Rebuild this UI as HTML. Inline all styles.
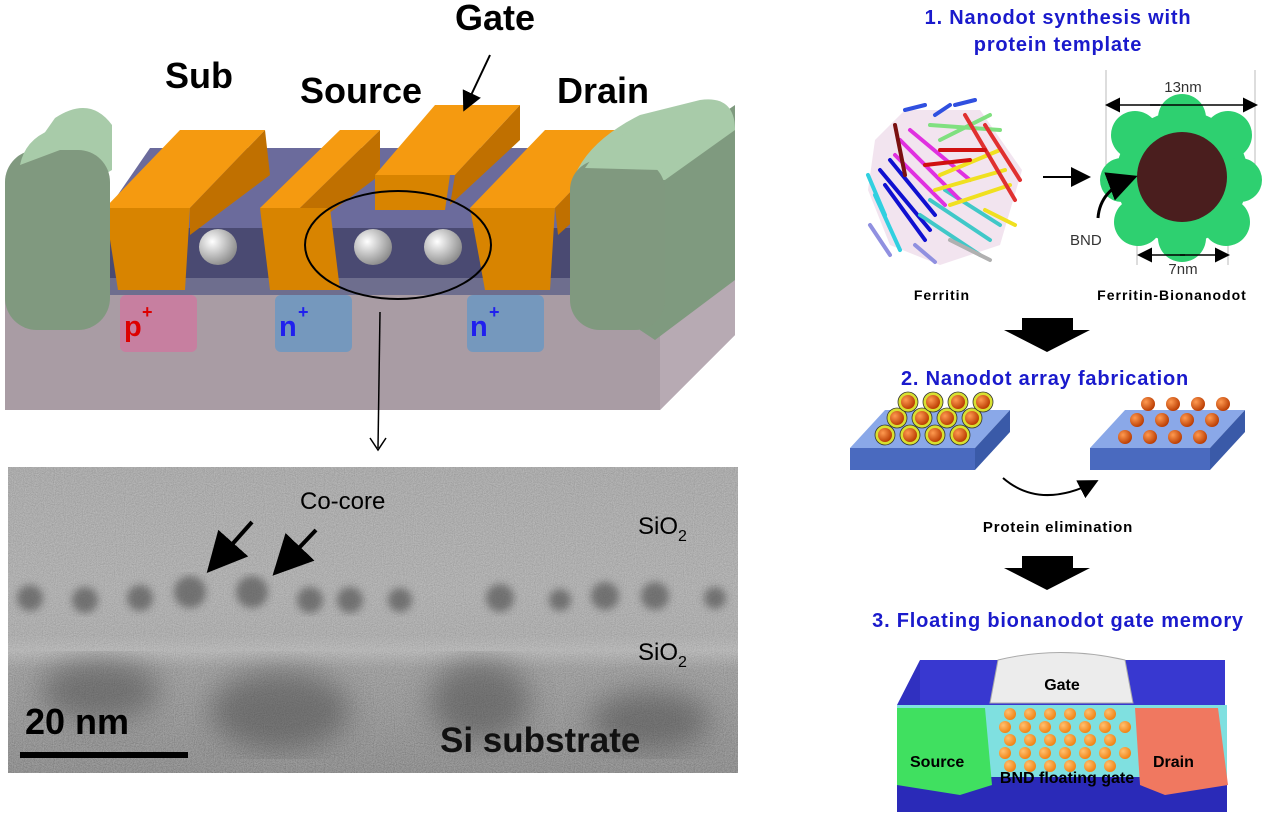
<!DOCTYPE html>
<html><head><meta charset="utf-8"><style>
html,body{margin:0;padding:0;background:#fff;}
svg{display:block;font-family:"Liberation Sans",Arial,sans-serif;}
</style></head><body>
<svg width="1269" height="823" viewBox="0 0 1269 823" xmlns="http://www.w3.org/2000/svg">
<defs>
<filter id="noise" x="0" y="0" width="100%" height="100%">
<feTurbulence type="fractalNoise" baseFrequency="0.9" numOctaves="2" seed="3" result="n"/>
<feColorMatrix type="saturate" values="0" in="n" result="g"/>
<feComponentTransfer in="g" result="g2"><feFuncA type="linear" slope="0" intercept="0.35"/></feComponentTransfer>
<feComposite in="g2" in2="SourceGraphic" operator="atop"/>
</filter>
<filter id="blur4"><feGaussianBlur stdDeviation="4"/></filter>
<filter id="blur14"><feGaussianBlur stdDeviation="14"/></filter>
<linearGradient id="tem" x1="0" y1="0" x2="0" y2="1">
<stop offset="0" stop-color="#a0a0a0"/><stop offset="0.4" stop-color="#a8a8a8"/>
<stop offset="0.55" stop-color="#a4a4a4"/><stop offset="0.6" stop-color="#b2b2b2"/>
<stop offset="0.66" stop-color="#8c8c8c"/><stop offset="1" stop-color="#707070"/>
</linearGradient>
<radialGradient id="sph" cx="0.35" cy="0.35" r="0.7"><stop offset="0" stop-color="#fff"/><stop offset="1" stop-color="#8a8a8a"/></radialGradient>
<radialGradient id="ball" cx="0.35" cy="0.35" r="0.7"><stop offset="0" stop-color="#ff9a50"/><stop offset="1" stop-color="#b83a00"/></radialGradient>
<radialGradient id="oball" cx="0.35" cy="0.35" r="0.7"><stop offset="0" stop-color="#ffc070"/><stop offset="1" stop-color="#f08010"/></radialGradient>
<marker id="ah" markerWidth="10" markerHeight="10" refX="8" refY="5" orient="auto"><path d="M0,0 L10,5 L0,10 Z" fill="#000"/></marker>
</defs>

<!-- ===== Left top device ===== -->
<polygon points="5,293 660,293 735,235 735,335 660,410 5,410" fill="#a99ca4"/>
<polygon points="660,293 735,235 735,335 660,410" fill="#b7aab3"/>
<polygon points="95,228 150,148 640,148 590,228" fill="#6b6b9c"/>
<rect x="95" y="228" width="500" height="50" fill="#4a4a72"/>
<rect x="95" y="278" width="500" height="17" fill="#6e6e8e"/>
<rect x="120" y="295" width="77" height="57" rx="6" fill="#c77fa0"/>
<rect x="275" y="295" width="77" height="57" rx="6" fill="#7598bd"/>
<rect x="467" y="295" width="77" height="57" rx="6" fill="#7598bd"/>
<text x="124" y="336" font-size="29" font-weight="bold" fill="#dd0000">p</text><text x="142" y="318" font-size="18" font-weight="bold" fill="#dd0000">+</text>
<text x="279" y="336" font-size="29" font-weight="bold" fill="#2020ee">n</text><text x="298" y="318" font-size="18" font-weight="bold" fill="#2020ee">+</text>
<text x="470" y="336" font-size="29" font-weight="bold" fill="#2020ee">n</text><text x="489" y="318" font-size="18" font-weight="bold" fill="#2020ee">+</text>
<ellipse cx="218" cy="247" rx="19" ry="18" fill="url(#sph)"/>
<ellipse cx="373" cy="247" rx="19" ry="18" fill="url(#sph)"/>
<ellipse cx="443" cy="247" rx="19" ry="18" fill="url(#sph)"/>
<g>
<polygon points="105,208 180,130 265,130 190,208" fill="#f59a10"/>
<polygon points="190,208 265,130 270,175 190,235" fill="#c07000"/>
<polygon points="105,208 190,208 185,290 118,290" fill="#d88400"/>
<polygon points="260,208 340,130 380,130 300,208" fill="#f59a10"/>
<polygon points="300,208 380,130 380,175 300,235" fill="#c07000"/>
<polygon points="260,208 330,208 340,290 270,290" fill="#d88400"/>
<polygon points="375,175 435,105 520,105 455,175" fill="#f59a10"/>
<polygon points="455,175 520,105 520,140 450,205" fill="#c07000"/>
<polygon points="375,175 450,175 445,210 375,210" fill="#d88400"/>
<polygon points="470,208 545,130 630,130 555,208" fill="#f59a10"/>
<polygon points="555,208 630,130 630,170 558,235" fill="#c07000"/>
<polygon points="470,208 555,208 550,290 485,290" fill="#d88400"/>
</g>
<!-- green pillars -->
<path d="M8,185 L55,118 Q90,95 112,125 L112,170 L60,200 Z" fill="#a8cba9"/>
<rect x="5" y="150" width="105" height="180" rx="32" fill="#80997f"/>
<path d="M20,165 Q25,140 50,130 L60,122 Q85,108 105,125 Q80,130 60,150 Z" fill="#a8cba9"/>
<polygon points="640,170 735,105 735,280 655,340 640,330" fill="#7f9a7f"/>
<path d="M575,175 Q590,140 640,115 L700,100 Q735,95 735,130 L665,180 Z" fill="#a8cba9"/>
<rect x="570" y="160" width="95" height="170" rx="30" fill="#80997f"/>
<path d="M585,168 Q600,145 640,125 L700,105 Q728,100 730,125 L660,170 Z" fill="#a8cba9"/>
<ellipse cx="398" cy="245" rx="93" ry="54" fill="none" stroke="#000" stroke-width="2"/>
<text x="165" y="88" font-size="36" font-weight="bold">Sub</text>
<text x="300" y="103" font-size="36" font-weight="bold">Source</text>
<text x="455" y="30" font-size="36" font-weight="bold">Gate</text>
<text x="557" y="103" font-size="36" font-weight="bold">Drain</text>
<line x1="490" y1="55" x2="465" y2="108" stroke="#000" stroke-width="2" marker-end="url(#ah)"/>
<line x1="380" y1="312" x2="378" y2="448" stroke="#000" stroke-width="1.5"/>
<polyline points="370,438 378,450 386,438" fill="none" stroke="#000" stroke-width="1.5"/>

<!-- ===== TEM ===== -->
<g>
<rect x="8" y="467" width="730" height="306" fill="url(#tem)" filter="url(#noise)"/>
<g fill="#4a4a4a" opacity="0.6" filter="url(#blur4)">
<circle cx="30" cy="598" r="13"/><circle cx="85" cy="600" r="13"/><circle cx="140" cy="598" r="13"/>
<circle cx="190" cy="592" r="16"/><circle cx="252" cy="592" r="16"/><circle cx="310" cy="600" r="13"/>
<circle cx="350" cy="600" r="13"/><circle cx="400" cy="600" r="12"/><circle cx="500" cy="598" r="14"/>
<circle cx="560" cy="600" r="11"/><circle cx="605" cy="596" r="14"/><circle cx="655" cy="596" r="14"/><circle cx="715" cy="598" r="11"/>
</g>
<g fill="#3e3e3e" opacity="0.45" filter="url(#blur14)">
<ellipse cx="280" cy="710" rx="70" ry="40"/><ellipse cx="100" cy="690" rx="60" ry="30"/><ellipse cx="480" cy="700" rx="50" ry="40"/><ellipse cx="650" cy="720" rx="60" ry="30"/>
</g>
</g>
<text x="300" y="509" font-size="24">Co-core</text>
<line x1="252" y1="522" x2="212" y2="567" stroke="#000" stroke-width="4" marker-end="url(#ah)"/>
<line x1="316" y1="530" x2="278" y2="570" stroke="#000" stroke-width="4" marker-end="url(#ah)"/>
<text x="638" y="534" font-size="24">SiO<tspan font-size="16" dy="7">2</tspan></text>
<text x="638" y="660" font-size="24">SiO<tspan font-size="16" dy="7">2</tspan></text>
<text x="440" y="752" font-size="35" font-weight="bold" fill="#111">Si substrate</text>
<text x="25" y="734" font-size="36" font-weight="bold">20 nm</text>
<rect x="20" y="752" width="168" height="6" fill="#000"/>

<!-- ===== Right ===== -->
<g font-weight="bold" fill="#1a1acc" font-size="20" text-anchor="middle" letter-spacing="0.8">
<text x="1058" y="24">1. Nanodot synthesis with</text>
<text x="1058" y="51">protein template</text>
<text x="1045" y="385">2. Nanodot array fabrication</text>
<text x="1058" y="627">3. Floating bionanodot gate memory</text>
</g>
<!-- ferritin -->
<g stroke-width="4" fill="none" stroke-linecap="round">
<path d="M875,140 L905,110 L980,110 L1022,170 L1000,245 L940,265 L890,245 L868,190 Z" fill="#f2e4ef" stroke="none"/>
<path d="M880,170 L930,230 M885,185 L925,240 M890,160 L935,215" stroke="#1010d0"/>
<path d="M875,195 L900,250 M868,175 L885,215" stroke="#30d0e0"/>
<path d="M930,200 L990,240 M920,215 L980,255 M945,190 L1000,225" stroke="#40c8c8"/>
<path d="M900,140 L960,200 M910,130 L970,180 M895,155 L945,205" stroke="#e030e0"/>
<path d="M940,175 L1000,150 M935,190 L1005,170 M950,205 L1010,185" stroke="#f0e020"/>
<path d="M930,125 L1000,130 M940,140 L990,115" stroke="#80e080"/>
<path d="M965,115 L1015,200 M985,125 L1020,180" stroke="#e03030"/>
<path d="M895,125 L905,175" stroke="#7a1010"/>
<path d="M940,150 L985,150 M925,165 L970,160" stroke="#d01010"/>
<path d="M985,210 L1015,225" stroke="#f0e020"/>
<path d="M905,110 L925,105 M955,105 L975,100 M935,115 L950,105" stroke="#3050e0"/>
<path d="M870,225 L890,255 M915,245 L935,262" stroke="#9090e0"/>
<path d="M950,240 L990,260" stroke="#b0b0b0"/>
</g>
<line x1="1043" y1="177" x2="1087" y2="177" stroke="#000" stroke-width="2" marker-end="url(#ah)"/>
<!-- bionanodot -->
<g stroke="#bbb" stroke-width="1"><line x1="1106" y1="70" x2="1106" y2="170"/><line x1="1255" y1="70" x2="1255" y2="170"/><line x1="1137" y1="185" x2="1137" y2="265"/><line x1="1228" y1="185" x2="1228" y2="265"/></g>
<g fill="#2ed070">
<circle cx="1182" cy="177" r="66"/>
<circle cx="1135" cy="135" r="24"/><circle cx="1182" cy="118" r="24"/><circle cx="1228" cy="135" r="24"/>
<circle cx="1240" cy="180" r="22"/><circle cx="1226" cy="222" r="24"/><circle cx="1182" cy="238" r="24"/>
<circle cx="1138" cy="222" r="24"/><circle cx="1122" cy="180" r="22"/>
</g>
<circle cx="1182" cy="177" r="45" fill="#4a1e1e"/>
<line x1="1150" y1="105" x2="1255" y2="105" stroke="#000" stroke-width="1.5" marker-end="url(#ah)"/>
<line x1="1160" y1="105" x2="1108" y2="105" stroke="#000" stroke-width="1.5" marker-end="url(#ah)"/>
<text x="1183" y="92" font-size="15" text-anchor="middle" fill="#333">13nm</text>
<line x1="1180" y1="255" x2="1227" y2="255" stroke="#000" stroke-width="1.5" marker-end="url(#ah)"/>
<line x1="1185" y1="255" x2="1140" y2="255" stroke="#000" stroke-width="1.5" marker-end="url(#ah)"/>
<text x="1183" y="274" font-size="15" text-anchor="middle" fill="#333">7nm</text>
<path d="M1098,218 Q1100,190 1132,178" fill="none" stroke="#000" stroke-width="3" marker-end="url(#ah)"/>
<text x="1070" y="245" font-size="15" fill="#333">BND</text>
<text x="942" y="300" font-size="14" font-weight="bold" text-anchor="middle" letter-spacing="1">Ferritin</text>
<text x="1172" y="300" font-size="14" font-weight="bold" text-anchor="middle" letter-spacing="1">Ferritin-Bionanodot</text>
<polygon points="1022,318 1073,318 1073,330 1090,330 1047,352 1004,330 1022,330" fill="#000"/>
<polygon points="1022,556 1073,556 1073,568 1090,568 1047,590 1004,568 1022,568" fill="#000"/>
<!-- plates -->
<polygon points="850,448 885,410 1010,410 975,448" fill="#8aa8e8"/>
<polygon points="850,448 975,448 975,470 850,470" fill="#4a6abf"/>
<polygon points="975,448 1010,410 1010,432 975,470" fill="#3a5aa8"/>
<polygon points="1090,448 1125,410 1245,410 1210,448" fill="#8aa8e8"/>
<polygon points="1090,448 1210,448 1210,470 1090,470" fill="#4a6abf"/>
<polygon points="1210,448 1245,410 1245,432 1210,470" fill="#3a5aa8"/>
<g fill="#d8e030" stroke="#333" stroke-width="0.8">
<circle cx="885" cy="435" r="10"/><circle cx="910" cy="435" r="10"/><circle cx="935" cy="435" r="10"/><circle cx="960" cy="435" r="10"/>
<circle cx="897" cy="418" r="10"/><circle cx="922" cy="418" r="10"/><circle cx="947" cy="418" r="10"/><circle cx="972" cy="418" r="10"/>
<circle cx="908" cy="402" r="10"/><circle cx="933" cy="402" r="10"/><circle cx="958" cy="402" r="10"/><circle cx="983" cy="402" r="10"/>
</g>
<g fill="url(#ball)">
<circle cx="885" cy="435" r="7"/><circle cx="910" cy="435" r="7"/><circle cx="935" cy="435" r="7"/><circle cx="960" cy="435" r="7"/>
<circle cx="897" cy="418" r="7"/><circle cx="922" cy="418" r="7"/><circle cx="947" cy="418" r="7"/><circle cx="972" cy="418" r="7"/>
<circle cx="908" cy="402" r="7"/><circle cx="933" cy="402" r="7"/><circle cx="958" cy="402" r="7"/><circle cx="983" cy="402" r="7"/>
<circle cx="1125" cy="437" r="7"/><circle cx="1150" cy="437" r="7"/><circle cx="1175" cy="437" r="7"/><circle cx="1200" cy="437" r="7"/>
<circle cx="1137" cy="420" r="7"/><circle cx="1162" cy="420" r="7"/><circle cx="1187" cy="420" r="7"/><circle cx="1212" cy="420" r="7"/>
<circle cx="1148" cy="404" r="7"/><circle cx="1173" cy="404" r="7"/><circle cx="1198" cy="404" r="7"/><circle cx="1223" cy="404" r="7"/>
</g>
<path d="M1003,478 Q1040,510 1095,482" fill="none" stroke="#000" stroke-width="2" marker-end="url(#ah)"/>
<text x="1058" y="532" font-size="15" font-weight="bold" text-anchor="middle" letter-spacing="0.8">Protein elimination</text>
<!-- bottom device -->
<polygon points="920,660 1225,660 1225,705 920,705" fill="#3838d0"/>
<polygon points="897,705 920,660 920,705" fill="#3030c0"/>
<rect x="897" y="705" width="330" height="75" fill="#7fe0e0"/>
<rect x="897" y="777" width="330" height="35" fill="#2a2ab8"/>
<polygon points="897,708 985,708 992,785 960,795 897,785" fill="#40e060"/>
<polygon points="1135,708 1218,708 1228,785 1165,795 1140,785" fill="#f07860"/>
<g fill="url(#oball)">
<circle cx="1010" cy="714" r="6"/><circle cx="1030" cy="714" r="6"/><circle cx="1050" cy="714" r="6"/><circle cx="1070" cy="714" r="6"/><circle cx="1090" cy="714" r="6"/><circle cx="1110" cy="714" r="6"/>
<circle cx="1005" cy="727" r="6"/><circle cx="1025" cy="727" r="6"/><circle cx="1045" cy="727" r="6"/><circle cx="1065" cy="727" r="6"/><circle cx="1085" cy="727" r="6"/><circle cx="1105" cy="727" r="6"/><circle cx="1125" cy="727" r="6"/>
<circle cx="1010" cy="740" r="6"/><circle cx="1030" cy="740" r="6"/><circle cx="1050" cy="740" r="6"/><circle cx="1070" cy="740" r="6"/><circle cx="1090" cy="740" r="6"/><circle cx="1110" cy="740" r="6"/>
<circle cx="1005" cy="753" r="6"/><circle cx="1025" cy="753" r="6"/><circle cx="1045" cy="753" r="6"/><circle cx="1065" cy="753" r="6"/><circle cx="1085" cy="753" r="6"/><circle cx="1105" cy="753" r="6"/><circle cx="1125" cy="753" r="6"/>
<circle cx="1010" cy="766" r="6"/><circle cx="1030" cy="766" r="6"/><circle cx="1050" cy="766" r="6"/><circle cx="1070" cy="766" r="6"/><circle cx="1090" cy="766" r="6"/><circle cx="1110" cy="766" r="6"/>
</g>
<path d="M990,703 L998,660 Q1060,645 1125,660 L1133,703 Z" fill="#ececec" stroke="#aaa"/>
<text x="1062" y="690" font-size="16" font-weight="bold" text-anchor="middle">Gate</text>
<text x="910" y="767" font-size="16" font-weight="bold">Source</text>
<text x="1153" y="767" font-size="16" font-weight="bold">Drain</text>
<text x="1067" y="783" font-size="16" font-weight="bold" text-anchor="middle">BND floating gate</text>
</svg>
</body></html>
